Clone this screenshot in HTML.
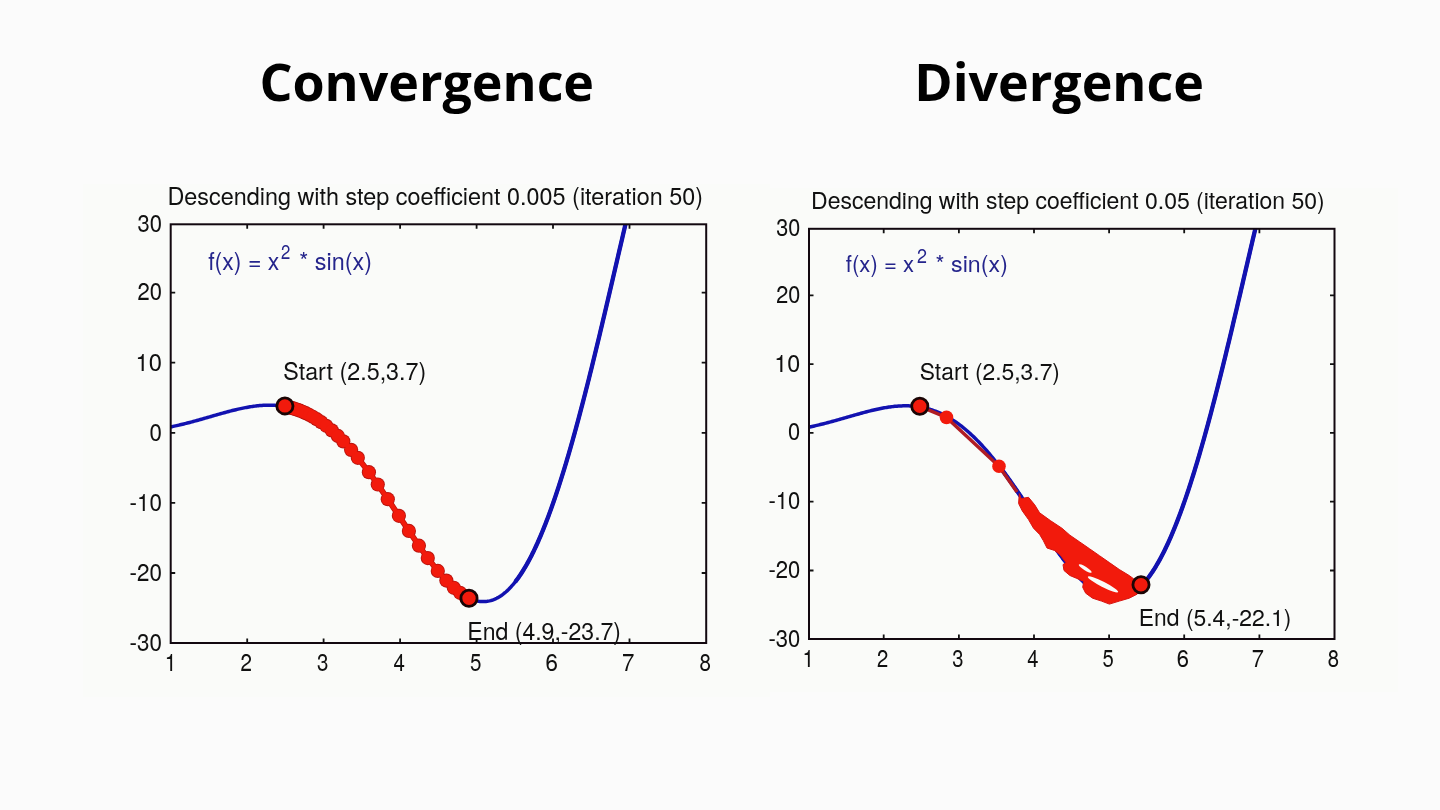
<!DOCTYPE html>
<html><head><meta charset="utf-8"><title>Convergence vs Divergence</title>
<style>html,body{margin:0;padding:0;background:#fbfbfb;width:1440px;height:810px;overflow:hidden}svg{display:block}</style>
</head><body>
<svg width="1440" height="810" viewBox="0 0 1440 810">
<rect width="1440" height="810" fill="#fbfbfb"/>
<rect x="83" y="184" width="687" height="513" fill="#fafbf9"/>
<rect x="770" y="188" width="628" height="504" fill="#fafbf9"/>
<clipPath id="cl"><rect x="170.7" y="224.3" width="535.5" height="418.7"/></clipPath><path d="M170.70,426.90 L171.89,426.66 L173.07,426.41 L174.26,426.15 L175.44,425.90 L176.63,425.63 L177.81,425.36 L179.00,425.09 L180.18,424.81 L181.37,424.53 L182.55,424.25 L183.74,423.96 L184.92,423.66 L186.11,423.36 L187.29,423.06 L188.48,422.75 L189.66,422.45 L190.85,422.13 L192.04,421.82 L193.22,421.50 L194.41,421.18 L195.59,420.85 L196.78,420.53 L197.96,420.20 L199.15,419.86 L200.33,419.53 L201.52,419.20 L202.70,418.86 L203.89,418.52 L205.07,418.18 L206.26,417.84 L207.44,417.50 L208.63,417.16 L209.81,416.81 L211.00,416.47 L212.18,416.13 L213.37,415.79 L214.56,415.44 L215.74,415.10 L216.93,414.76 L218.11,414.43 L219.30,414.09 L220.48,413.75 L221.67,413.42 L222.85,413.09 L224.04,412.76 L225.22,412.44 L226.41,412.12 L227.59,411.80 L228.78,411.48 L229.96,411.17 L231.15,410.87 L232.33,410.57 L233.52,410.27 L234.71,409.98 L235.89,409.69 L237.08,409.41 L238.26,409.14 L239.45,408.87 L240.63,408.61 L241.82,408.35 L243.00,408.11 L244.19,407.87 L245.37,407.64 L246.56,407.42 L247.74,407.20 L248.93,406.99 L250.11,406.80 L251.30,406.61 L252.48,406.43 L253.67,406.27 L254.86,406.11 L256.04,405.96 L257.23,405.83 L258.41,405.70 L259.60,405.59 L260.78,405.49 L261.97,405.40 L263.15,405.33 L264.34,405.26 L265.52,405.21 L266.71,405.18 L267.89,405.15 L269.08,405.14 L270.26,405.15 L271.45,405.17 L272.63,405.20 L273.82,405.25 L275.01,405.32 L276.19,405.40 L277.38,405.49 L278.56,405.60 L279.75,405.73 L280.93,405.88 L282.12,406.04 L283.30,406.22 L284.49,406.42 L285.67,406.63 L286.86,406.86 L288.04,407.11 L289.23,407.38 L290.41,407.67 L291.60,407.97 L292.78,408.30 L293.97,408.64 L295.15,409.00 L296.34,409.38 L297.53,409.79 L298.71,410.21 L299.90,410.65 L301.08,411.11 L302.27,411.59 L303.45,412.10 L304.64,412.62 L305.82,413.16 L307.01,413.73 L308.19,414.31 L309.38,414.92 L310.56,415.55 L311.75,416.20 L312.93,416.87 L314.12,417.56 L315.30,418.27 L316.49,419.01 L317.68,419.76 L318.86,420.54 L320.05,421.34 L321.23,422.16 L322.42,423.00 L323.60,423.87 L324.79,424.75 L325.97,425.66 L327.16,426.59 L328.34,427.54 L329.53,428.52 L330.71,429.51 L331.90,430.53 L333.08,431.56 L334.27,432.62 L335.45,433.70 L336.64,434.80 L337.83,435.92 L339.01,437.06 L340.20,438.23 L341.38,439.41 L342.57,440.62 L343.75,441.84 L344.94,443.08 L346.12,444.35 L347.31,445.63 L348.49,446.93 L349.68,448.26 L350.86,449.60 L352.05,450.96 L353.23,452.34 L354.42,453.73 L355.60,455.15 L356.79,456.58 L357.98,458.03 L359.16,459.50 L360.35,460.98 L361.53,462.48 L362.72,464.00 L363.90,465.53 L365.09,467.08 L366.27,468.64 L367.46,470.22 L368.64,471.81 L369.83,473.42 L371.01,475.04 L372.20,476.67 L373.38,478.31 L374.57,479.97 L375.75,481.64 L376.94,483.32 L378.12,485.01 L379.31,486.71 L380.50,488.42 L381.68,490.14 L382.87,491.87 L384.05,493.61 L385.24,495.36 L386.42,497.11 L387.61,498.87 L388.79,500.63 L389.98,502.40 L391.16,504.18 L392.35,505.96 L393.53,507.74 L394.72,509.53 L395.90,511.32 L397.09,513.11 L398.27,514.90 L399.46,516.70 L400.65,518.49 L401.83,520.29 L403.02,522.08 L404.20,523.87 L405.39,525.66 L406.57,527.44 L407.76,529.22 L408.94,531.00 L410.13,532.77 L411.31,534.54 L412.50,536.30 L413.68,538.05 L414.87,539.79 L416.05,541.53 L417.24,543.25 L418.42,544.97 L419.61,546.67 L420.80,548.36 L421.98,550.04 L423.17,551.71 L424.35,553.36 L425.54,555.00 L426.72,556.62 L427.91,558.23 L429.09,559.82 L430.28,561.39 L431.46,562.95 L432.65,564.48 L433.83,565.99 L435.02,567.49 L436.20,568.96 L437.39,570.41 L438.57,571.84 L439.76,573.24 L440.94,574.62 L442.13,575.97 L443.32,577.30 L444.50,578.60 L445.69,579.87 L446.87,581.12 L448.06,582.33 L449.24,583.52 L450.43,584.67 L451.61,585.79 L452.80,586.88 L453.98,587.94 L455.17,588.97 L456.35,589.96 L457.54,590.91 L458.72,591.83 L459.91,592.71 L461.09,593.56 L462.28,594.37 L463.47,595.13 L464.65,595.86 L465.84,596.55 L467.02,597.20 L468.21,597.81 L469.39,598.37 L470.58,598.89 L471.76,599.37 L472.95,599.80 L474.13,600.19 L475.32,600.54 L476.50,600.83 L477.69,601.08 L478.87,601.29 L480.06,601.44 L481.24,601.55 L482.43,601.61 L483.62,601.62 L484.80,601.58 L485.99,601.49 L487.17,601.34 L488.36,601.15 L489.54,600.90 L490.73,600.60 L491.91,600.25 L493.10,599.84 L494.28,599.38 L495.47,598.86 L496.65,598.29 L497.84,597.67 L499.02,596.99 L500.21,596.25 L501.39,595.45 L502.58,594.60 L503.77,593.69 L504.95,592.73 L506.14,591.70 L507.32,590.62 L508.51,589.48 L509.69,588.28 L510.88,587.02 L512.06,585.70 L513.25,584.32 L514.43,582.89 L515.62,581.39 L516.80,579.83 L517.99,578.22 L519.17,576.54 L520.36,574.80 L521.54,573.01 L522.73,571.15 L523.91,569.23 L525.10,567.25 L526.29,565.21 L527.47,563.11 L528.66,560.95 L529.84,558.73 L531.03,556.45 L532.21,554.11 L533.40,551.71 L534.58,549.25 L535.77,546.72 L536.95,544.14 L538.14,541.50 L539.32,538.80 L540.51,536.04 L541.69,533.23 L542.88,530.35 L544.06,527.42 L545.25,524.42 L546.44,521.37 L547.62,518.27 L548.81,515.10 L549.99,511.88 L551.18,508.61 L552.36,505.27 L553.55,501.89 L554.73,498.44 L555.92,494.95 L557.10,491.40 L558.29,487.80 L559.47,484.14 L560.66,480.44 L561.84,476.68 L563.03,472.87 L564.21,469.01 L565.40,465.10 L566.59,461.15 L567.77,457.14 L568.96,453.09 L570.14,449.00 L571.33,444.85 L572.51,440.67 L573.70,436.43 L574.88,432.16 L576.07,427.84 L577.25,423.48 L578.44,419.09 L579.62,414.65 L580.81,410.17 L581.99,405.66 L583.18,401.11 L584.36,396.52 L585.55,391.90 L586.74,387.25 L587.92,382.56 L589.11,377.84 L590.29,373.09 L591.48,368.31 L592.66,363.51 L593.85,358.68 L595.03,353.82 L596.22,348.94 L597.40,344.03 L598.59,339.10 L599.77,334.16 L600.96,329.19 L602.14,324.20 L603.33,319.20 L604.51,314.18 L605.70,309.15 L606.88,304.10 L608.07,299.04 L609.26,293.97 L610.44,288.90 L611.63,283.81 L612.81,278.72 L614.00,273.62 L615.18,268.52 L616.37,263.42 L617.55,258.32 L618.74,253.22 L619.92,248.12 L621.11,243.03 L622.29,237.94 L623.48,232.86 L624.66,227.79 L625.85,222.73 L627.03,217.68 L628.22,212.64 L629.41,207.62 L630.59,202.61 L631.78,197.62 L632.96,192.65 L634.15,187.70 L635.33,182.78 L636.52,177.88 L637.70,173.00 L638.89,168.15 L640.07,163.34 L641.26,158.55 L642.44,153.79 L643.63,149.07 L644.81,144.38" stroke="#1212b0" stroke-width="3.5" fill="none" clip-path="url(#cl)"/><path d="M364.30,466.05 L365.09,467.08 L365.88,468.12 L366.67,469.17 L367.46,470.22 L368.25,471.28 L369.04,472.35 L369.83,473.42 L370.62,474.50 L371.41,475.58 L372.20,476.67 L372.99,477.76 L373.78,478.87 L374.57,479.97 L375.36,481.08 L376.15,482.20 L376.94,483.32 L377.73,484.45 L378.52,485.58 L379.31,486.71 L380.10,487.85 L380.89,489.00 L381.68,490.14 L382.47,491.30 L383.26,492.45 L384.05,493.61 L384.84,494.77 L385.63,495.94 L386.42,497.11 L387.21,498.28 L388.00,499.45 L388.79,500.63 L389.58,501.81 L390.37,502.99 L391.16,504.18 L391.95,505.36 L392.74,506.55 L393.53,507.74 L394.32,508.93 L395.11,510.13 L395.90,511.32 L396.69,512.51 L397.48,513.71 L398.27,514.90 L399.06,516.10 L399.86,517.30 L400.65,518.49 L401.44,519.69 L402.23,520.88 L403.02,522.08 L403.81,523.27 L404.60,524.47 L405.39,525.66 L406.18,526.85 L406.97,528.04 L407.76,529.22 L408.55,530.41 L409.34,531.59 L410.13,532.77 L410.92,533.95 L411.71,535.12 L412.50,536.30 L413.29,537.46 L414.08,538.63 L414.87,539.79 L415.66,540.95 L416.45,542.10 L417.24,543.25 L418.03,544.40 L418.82,545.54 L419.61,546.67 L420.40,547.80 L421.19,548.92 L421.98,550.04 L422.77,551.16 L423.56,552.26 L424.35,553.36 L425.14,554.46 L425.93,555.54 L426.72,556.62 L427.51,557.70 L428.30,558.76 L429.09,559.82 L429.88,560.87 L430.67,561.91 L431.46,562.95M516.01,580.88 L516.80,579.83 L517.59,578.76 L518.38,577.67 L519.17,576.54 L519.96,575.39 L520.75,574.21 L521.54,573.01 L522.33,571.77 L523.12,570.52 L523.91,569.23 L524.71,567.92 L525.50,566.58 L526.29,565.21 L527.08,563.82 L527.87,562.40 L528.66,560.95 L529.45,559.48 L530.24,557.98 L531.03,556.45 L531.82,554.90 L532.61,553.31 L533.40,551.71 L534.19,550.07 L534.98,548.41 L535.77,546.72 L536.56,545.01 L537.35,543.27 L538.14,541.50 L538.93,539.71 L539.72,537.89 L540.51,536.04 L541.30,534.17 L542.09,532.27 L542.88,530.35 L543.67,528.40 L544.46,526.42 L545.25,524.42 L546.04,522.40 L546.83,520.34 L547.62,518.27 L548.41,516.16 L549.20,514.03 L549.99,511.88 L550.78,509.70 L551.57,507.50 L552.36,505.27 L553.15,503.02 L553.94,500.75 L554.73,498.44 L555.52,496.12 L556.31,493.77 L557.10,491.40 L557.89,489.00 L558.68,486.58 L559.47,484.14 L560.26,481.68 L561.05,479.19 L561.84,476.68 L562.63,474.14 L563.42,471.59 L564.21,469.01 L565.00,466.41 L565.80,463.79 L566.59,461.15 L567.38,458.48 L568.17,455.80 L568.96,453.09 L569.75,450.37 L570.54,447.62 L571.33,444.85 L572.12,442.07 L572.91,439.26 L573.70,436.43 L574.49,433.59 L575.28,430.72 L576.07,427.84 L576.86,424.94 L577.65,422.02 L578.44,419.09 L579.23,416.13 L580.02,413.16 L580.81,410.17 L581.60,407.17 L582.39,404.14 L583.18,401.11 L583.97,398.05 L584.76,394.98 L585.55,391.90 L586.34,388.80 L587.13,385.69 L587.92,382.56 L588.71,379.42 L589.50,376.26 L590.29,373.09 L591.08,369.91 L591.87,366.72 L592.66,363.51 L593.45,360.29 L594.24,357.06 L595.03,353.82 L595.82,350.57 L596.61,347.30 L597.40,344.03 L598.19,340.75 L598.98,337.46 L599.77,334.16 L600.56,330.85 L601.35,327.53 L602.14,324.20 L602.93,320.87 L603.72,317.53 L604.51,314.18 L605.30,310.82 L606.09,307.46 L606.88,304.10 L607.68,300.73 L608.47,297.35 L609.26,293.97 L610.05,290.59 L610.84,287.20 L611.63,283.81 L612.42,280.42 L613.21,277.02 L614.00,273.62 L614.79,270.22 L615.58,266.82 L616.37,263.42 L617.16,260.02 L617.95,256.62 L618.74,253.22 L619.53,249.82 L620.32,246.43 L621.11,243.03 L621.90,239.64 L622.69,236.25 L623.48,232.86 L624.27,229.48 L625.06,226.10 L625.85,222.73 L626.64,219.36 L627.43,216.00 L628.22,212.64 L629.01,209.29 L629.80,205.95 L630.59,202.61 L631.38,199.28 L632.17,195.96 L632.96,192.65 L633.75,189.35 L634.54,186.06 L635.33,182.78 L636.12,179.51 L636.91,176.25 L637.70,173.00 L638.49,169.77 L639.28,166.55 L640.07,163.34 L640.86,160.14 L641.65,156.96 L642.44,153.79 L643.23,150.64 L644.02,147.50 L644.81,144.38" stroke="#1212b0" stroke-width="4.3" fill="none" stroke-linecap="round" clip-path="url(#cl)"/><path d="M285.40,406.58 L286.71,406.83 L288.14,407.13 L289.70,407.49 L291.41,407.92 L293.27,408.43 L295.31,409.05 L297.56,409.80 L300.02,410.70 L302.74,411.79 L305.73,413.12 L309.04,414.74 L312.69,416.73 L316.74,419.16 L321.23,422.16 L326.21,425.84 L331.73,430.38 L337.85,435.94 L343.29,441.36 L351.09,449.86 L357.82,457.84 L368.91,472.17 L377.78,484.52 L387.80,499.15 L398.89,515.83 L408.90,530.94 L418.92,545.68 L427.79,558.08 L437.81,570.92 L446.37,580.59 L453.80,587.78 L460.06,592.82 L465.20,596.19 L468.93,598.16" stroke="#c0160f" stroke-width="5.800000000000001" fill="none" stroke-linejoin="round"/><circle cx="286.71" cy="406.83" r="7.1000000000000005" fill="#b8140f"/><circle cx="288.14" cy="407.13" r="7.1000000000000005" fill="#b8140f"/><circle cx="289.70" cy="407.49" r="7.1000000000000005" fill="#b8140f"/><circle cx="291.41" cy="407.92" r="7.1000000000000005" fill="#b8140f"/><circle cx="293.27" cy="408.43" r="7.1000000000000005" fill="#b8140f"/><circle cx="295.31" cy="409.05" r="7.1000000000000005" fill="#b8140f"/><circle cx="297.56" cy="409.80" r="7.1000000000000005" fill="#b8140f"/><circle cx="300.02" cy="410.70" r="7.1000000000000005" fill="#b8140f"/><circle cx="302.74" cy="411.79" r="7.1000000000000005" fill="#b8140f"/><circle cx="305.73" cy="413.12" r="7.1000000000000005" fill="#b8140f"/><circle cx="309.04" cy="414.74" r="7.1000000000000005" fill="#b8140f"/><circle cx="312.69" cy="416.73" r="7.1000000000000005" fill="#b8140f"/><circle cx="316.74" cy="419.16" r="7.1000000000000005" fill="#b8140f"/><circle cx="321.23" cy="422.16" r="7.1000000000000005" fill="#b8140f"/><circle cx="326.21" cy="425.84" r="7.1000000000000005" fill="#b8140f"/><circle cx="331.73" cy="430.38" r="7.1000000000000005" fill="#b8140f"/><circle cx="337.85" cy="435.94" r="7.1000000000000005" fill="#b8140f"/><circle cx="343.29" cy="441.36" r="7.1000000000000005" fill="#b8140f"/><circle cx="351.09" cy="449.86" r="7.1000000000000005" fill="#b8140f"/><circle cx="357.82" cy="457.84" r="7.1000000000000005" fill="#b8140f"/><circle cx="368.91" cy="472.17" r="7.1000000000000005" fill="#b8140f"/><circle cx="377.78" cy="484.52" r="7.1000000000000005" fill="#b8140f"/><circle cx="387.80" cy="499.15" r="7.1000000000000005" fill="#b8140f"/><circle cx="398.89" cy="515.83" r="7.1000000000000005" fill="#b8140f"/><circle cx="408.90" cy="530.94" r="7.1000000000000005" fill="#b8140f"/><circle cx="418.92" cy="545.68" r="7.1000000000000005" fill="#b8140f"/><circle cx="427.79" cy="558.08" r="7.1000000000000005" fill="#b8140f"/><circle cx="437.81" cy="570.92" r="7.1000000000000005" fill="#b8140f"/><circle cx="446.37" cy="580.59" r="7.1000000000000005" fill="#b8140f"/><circle cx="453.80" cy="587.78" r="7.1000000000000005" fill="#b8140f"/><circle cx="460.06" cy="592.82" r="7.1000000000000005" fill="#b8140f"/><circle cx="465.20" cy="596.19" r="7.1000000000000005" fill="#b8140f"/><path d="M285.40,406.58 L286.71,406.83 L288.14,407.13 L289.70,407.49 L291.41,407.92 L293.27,408.43 L295.31,409.05 L297.56,409.80 L300.02,410.70 L302.74,411.79 L305.73,413.12 L309.04,414.74 L312.69,416.73 L316.74,419.16 L321.23,422.16 L326.21,425.84 L331.73,430.38 L337.85,435.94 L343.29,441.36 L351.09,449.86 L357.82,457.84 L368.91,472.17 L377.78,484.52 L387.80,499.15 L398.89,515.83 L408.90,530.94 L418.92,545.68 L427.79,558.08 L437.81,570.92 L446.37,580.59 L453.80,587.78 L460.06,592.82 L465.20,596.19 L468.93,598.16" stroke="#f21a0c" stroke-width="4.2" fill="none" stroke-linejoin="round"/><circle cx="286.71" cy="406.83" r="6.2" fill="#f21a0c"/><circle cx="288.14" cy="407.13" r="6.2" fill="#f21a0c"/><circle cx="289.70" cy="407.49" r="6.2" fill="#f21a0c"/><circle cx="291.41" cy="407.92" r="6.2" fill="#f21a0c"/><circle cx="293.27" cy="408.43" r="6.2" fill="#f21a0c"/><circle cx="295.31" cy="409.05" r="6.2" fill="#f21a0c"/><circle cx="297.56" cy="409.80" r="6.2" fill="#f21a0c"/><circle cx="300.02" cy="410.70" r="6.2" fill="#f21a0c"/><circle cx="302.74" cy="411.79" r="6.2" fill="#f21a0c"/><circle cx="305.73" cy="413.12" r="6.2" fill="#f21a0c"/><circle cx="309.04" cy="414.74" r="6.2" fill="#f21a0c"/><circle cx="312.69" cy="416.73" r="6.2" fill="#f21a0c"/><circle cx="316.74" cy="419.16" r="6.2" fill="#f21a0c"/><circle cx="321.23" cy="422.16" r="6.2" fill="#f21a0c"/><circle cx="326.21" cy="425.84" r="6.2" fill="#f21a0c"/><circle cx="331.73" cy="430.38" r="6.2" fill="#f21a0c"/><circle cx="337.85" cy="435.94" r="6.2" fill="#f21a0c"/><circle cx="343.29" cy="441.36" r="6.2" fill="#f21a0c"/><circle cx="351.09" cy="449.86" r="6.2" fill="#f21a0c"/><circle cx="357.82" cy="457.84" r="6.2" fill="#f21a0c"/><circle cx="368.91" cy="472.17" r="6.2" fill="#f21a0c"/><circle cx="377.78" cy="484.52" r="6.2" fill="#f21a0c"/><circle cx="387.80" cy="499.15" r="6.2" fill="#f21a0c"/><circle cx="398.89" cy="515.83" r="6.2" fill="#f21a0c"/><circle cx="408.90" cy="530.94" r="6.2" fill="#f21a0c"/><circle cx="418.92" cy="545.68" r="6.2" fill="#f21a0c"/><circle cx="427.79" cy="558.08" r="6.2" fill="#f21a0c"/><circle cx="437.81" cy="570.92" r="6.2" fill="#f21a0c"/><circle cx="446.37" cy="580.59" r="6.2" fill="#f21a0c"/><circle cx="453.80" cy="587.78" r="6.2" fill="#f21a0c"/><circle cx="460.06" cy="592.82" r="6.2" fill="#f21a0c"/><circle cx="465.20" cy="596.19" r="6.2" fill="#f21a0c"/><circle cx="284.90" cy="405.90" r="8.1" fill="#f21a0c" stroke="#1a0505" stroke-width="2.8"/><circle cx="469.00" cy="598.20" r="8.1" fill="#f21a0c" stroke="#1a0505" stroke-width="2.8"/>
<clipPath id="cr"><rect x="809.0" y="228.8" width="525.5" height="410.2"/></clipPath><path d="M808.60,427.16 L809.76,426.92 L810.93,426.68 L812.09,426.43 L813.26,426.18 L814.42,425.92 L815.59,425.65 L816.75,425.39 L817.92,425.11 L819.08,424.84 L820.25,424.56 L821.41,424.27 L822.57,423.98 L823.74,423.69 L824.90,423.39 L826.07,423.09 L827.23,422.79 L828.40,422.48 L829.56,422.17 L830.73,421.86 L831.89,421.55 L833.05,421.23 L834.22,420.91 L835.38,420.58 L836.55,420.26 L837.71,419.93 L838.88,419.60 L840.04,419.27 L841.21,418.94 L842.37,418.61 L843.54,418.27 L844.70,417.94 L845.86,417.60 L847.03,417.26 L848.19,416.93 L849.36,416.59 L850.52,416.26 L851.69,415.92 L852.85,415.59 L854.02,415.25 L855.18,414.92 L856.35,414.59 L857.51,414.26 L858.67,413.94 L859.84,413.61 L861.00,413.29 L862.17,412.97 L863.33,412.66 L864.50,412.34 L865.66,412.03 L866.83,411.73 L867.99,411.43 L869.15,411.13 L870.32,410.84 L871.48,410.56 L872.65,410.28 L873.81,410.00 L874.98,409.73 L876.14,409.47 L877.31,409.21 L878.47,408.97 L879.64,408.72 L880.80,408.49 L881.96,408.26 L883.13,408.04 L884.29,407.83 L885.46,407.63 L886.62,407.44 L887.79,407.25 L888.95,407.08 L890.12,406.92 L891.28,406.76 L892.45,406.62 L893.61,406.49 L894.77,406.36 L895.94,406.25 L897.10,406.16 L898.27,406.07 L899.43,405.99 L900.60,405.93 L901.76,405.88 L902.93,405.85 L904.09,405.82 L905.25,405.81 L906.42,405.82 L907.58,405.84 L908.75,405.87 L909.91,405.92 L911.08,405.98 L912.24,406.06 L913.41,406.16 L914.57,406.27 L915.74,406.39 L916.90,406.53 L918.06,406.69 L919.23,406.87 L920.39,407.06 L921.56,407.27 L922.72,407.50 L923.89,407.74 L925.05,408.01 L926.22,408.29 L927.38,408.59 L928.55,408.91 L929.71,409.24 L930.87,409.60 L932.04,409.97 L933.20,410.37 L934.37,410.78 L935.53,411.22 L936.70,411.67 L937.86,412.14 L939.03,412.64 L940.19,413.15 L941.35,413.68 L942.52,414.24 L943.68,414.81 L944.85,415.41 L946.01,416.02 L947.18,416.66 L948.34,417.32 L949.51,418.00 L950.67,418.69 L951.84,419.42 L953.00,420.16 L954.16,420.92 L955.33,421.71 L956.49,422.51 L957.66,423.34 L958.82,424.19 L959.99,425.06 L961.15,425.95 L962.32,426.86 L963.48,427.79 L964.65,428.75 L965.81,429.72 L966.97,430.72 L968.14,431.74 L969.30,432.77 L970.47,433.83 L971.63,434.91 L972.80,436.01 L973.96,437.13 L975.13,438.28 L976.29,439.44 L977.45,440.62 L978.62,441.82 L979.78,443.04 L980.95,444.28 L982.11,445.54 L983.28,446.82 L984.44,448.12 L985.61,449.43 L986.77,450.77 L987.94,452.12 L989.10,453.49 L990.26,454.88 L991.43,456.28 L992.59,457.71 L993.76,459.15 L994.92,460.60 L996.09,462.08 L997.25,463.56 L998.42,465.07 L999.58,466.59 L1000.74,468.12 L1001.91,469.67 L1003.07,471.23 L1004.24,472.80 L1005.40,474.39 L1006.57,475.99 L1007.73,477.61 L1008.90,479.23 L1010.06,480.87 L1011.23,482.52 L1012.39,484.18 L1013.55,485.85 L1014.72,487.53 L1015.88,489.21 L1017.05,490.91 L1018.21,492.61 L1019.38,494.33 L1020.54,496.05 L1021.71,497.77 L1022.87,499.50 L1024.04,501.24 L1025.20,502.98 L1026.36,504.73 L1027.53,506.48 L1028.69,508.24 L1029.86,509.99 L1031.02,511.75 L1032.19,513.51 L1033.35,515.27 L1034.52,517.03 L1035.68,518.79 L1036.84,520.55 L1038.01,522.31 L1039.17,524.06 L1040.34,525.81 L1041.50,527.56 L1042.67,529.30 L1043.83,531.04 L1045.00,532.77 L1046.16,534.50 L1047.33,536.22 L1048.49,537.93 L1049.65,539.63 L1050.82,541.32 L1051.98,543.00 L1053.15,544.68 L1054.31,546.34 L1055.48,547.98 L1056.64,549.62 L1057.81,551.24 L1058.97,552.85 L1060.14,554.44 L1061.30,556.02 L1062.46,557.58 L1063.63,559.12 L1064.79,560.64 L1065.96,562.15 L1067.12,563.64 L1068.29,565.10 L1069.45,566.55 L1070.62,567.97 L1071.78,569.37 L1072.94,570.75 L1074.11,572.10 L1075.27,573.43 L1076.44,574.73 L1077.60,576.00 L1078.77,577.25 L1079.93,578.47 L1081.10,579.67 L1082.26,580.83 L1083.43,581.96 L1084.59,583.06 L1085.75,584.13 L1086.92,585.17 L1088.08,586.18 L1089.25,587.15 L1090.41,588.08 L1091.58,588.99 L1092.74,589.85 L1093.91,590.68 L1095.07,591.47 L1096.24,592.23 L1097.40,592.94 L1098.56,593.62 L1099.73,594.25 L1100.89,594.85 L1102.06,595.40 L1103.22,595.91 L1104.39,596.38 L1105.55,596.81 L1106.72,597.19 L1107.88,597.53 L1109.04,597.82 L1110.21,598.07 L1111.37,598.27 L1112.54,598.42 L1113.70,598.52 L1114.87,598.58 L1116.03,598.59 L1117.20,598.55 L1118.36,598.46 L1119.53,598.32 L1120.69,598.13 L1121.85,597.88 L1123.02,597.59 L1124.18,597.24 L1125.35,596.84 L1126.51,596.39 L1127.68,595.89 L1128.84,595.33 L1130.01,594.71 L1131.17,594.04 L1132.34,593.32 L1133.50,592.54 L1134.66,591.70 L1135.83,590.81 L1136.99,589.86 L1138.16,588.86 L1139.32,587.80 L1140.49,586.68 L1141.65,585.50 L1142.82,584.27 L1143.98,582.97 L1145.14,581.62 L1146.31,580.21 L1147.47,578.74 L1148.64,577.22 L1149.80,575.63 L1150.97,573.98 L1152.13,572.28 L1153.30,570.52 L1154.46,568.69 L1155.63,566.81 L1156.79,564.87 L1157.95,562.87 L1159.12,560.81 L1160.28,558.69 L1161.45,556.51 L1162.61,554.27 L1163.78,551.97 L1164.94,549.62 L1166.11,547.20 L1167.27,544.73 L1168.44,542.20 L1169.60,539.61 L1170.76,536.96 L1171.93,534.25 L1173.09,531.48 L1174.26,528.66 L1175.42,525.78 L1176.59,522.85 L1177.75,519.86 L1178.92,516.81 L1180.08,513.70 L1181.24,510.54 L1182.41,507.33 L1183.57,504.06 L1184.74,500.74 L1185.90,497.36 L1187.07,493.93 L1188.23,490.45 L1189.40,486.91 L1190.56,483.33 L1191.73,479.69 L1192.89,476.00 L1194.05,472.27 L1195.22,468.48 L1196.38,464.65 L1197.55,460.76 L1198.71,456.84 L1199.88,452.86 L1201.04,448.84 L1202.21,444.78 L1203.37,440.67 L1204.54,436.52 L1205.70,432.32 L1206.86,428.09 L1208.03,423.81 L1209.19,419.49 L1210.36,415.14 L1211.52,410.75 L1212.69,406.32 L1213.85,401.85 L1215.02,397.35 L1216.18,392.82 L1217.34,388.25 L1218.51,383.65 L1219.67,379.03 L1220.84,374.37 L1222.00,369.68 L1223.17,364.96 L1224.33,360.22 L1225.50,355.46 L1226.66,350.67 L1227.83,345.85 L1228.99,341.02 L1230.15,336.16 L1231.32,331.29 L1232.48,326.40 L1233.65,321.49 L1234.81,316.56 L1235.98,311.62 L1237.14,306.67 L1238.31,301.71 L1239.47,296.74 L1240.64,291.75 L1241.80,286.77 L1242.96,281.77 L1244.13,276.77 L1245.29,271.77 L1246.46,266.76 L1247.62,261.76 L1248.79,256.75 L1249.95,251.75 L1251.12,246.75 L1252.28,241.76 L1253.44,236.78 L1254.61,231.80 L1255.77,226.83 L1256.94,221.88 L1258.10,216.94 L1259.27,212.01 L1260.43,207.10 L1261.60,202.20 L1262.76,197.32 L1263.93,192.47 L1265.09,187.64 L1266.25,182.83 L1267.42,178.04 L1268.58,173.29 L1269.75,168.56 L1270.91,163.86 L1272.08,159.20 L1273.24,154.56 L1274.41,149.96" stroke="#1212b0" stroke-width="3.5" fill="none" clip-path="url(#cr)"/><path d="M998.80,465.57 L999.58,466.59 L1000.36,467.61 L1001.13,468.63 L1001.91,469.67 L1002.69,470.71 L1003.46,471.75 L1004.24,472.80 L1005.01,473.86 L1005.79,474.92 L1006.57,475.99 L1007.34,477.07 L1008.12,478.15 L1008.90,479.23 L1009.67,480.32 L1010.45,481.42 L1011.23,482.52 L1012.00,483.62 L1012.78,484.73 L1013.55,485.85 L1014.33,486.97 L1015.11,488.09 L1015.88,489.21 L1016.66,490.34 L1017.44,491.48 L1018.21,492.61 L1018.99,493.76 L1019.77,494.90 L1020.54,496.05 L1021.32,497.20 L1022.09,498.35 L1022.87,499.50 L1023.65,500.66 L1024.42,501.82 L1025.20,502.98 L1025.98,504.15 L1026.75,505.31 L1027.53,506.48 L1028.31,507.65 L1029.08,508.82 L1029.86,509.99 L1030.63,511.16 L1031.41,512.34 L1032.19,513.51 L1032.96,514.68 L1033.74,515.86 L1034.52,517.03 L1035.29,518.20 L1036.07,519.38 L1036.84,520.55 L1037.62,521.72 L1038.40,522.89 L1039.17,524.06 L1039.95,525.23 L1040.73,526.39 L1041.50,527.56 L1042.28,528.72 L1043.06,529.88 L1043.83,531.04 L1044.61,532.20 L1045.38,533.35 L1046.16,534.50 L1046.94,535.64 L1047.71,536.79 L1048.49,537.93 L1049.27,539.06 L1050.04,540.19 L1050.82,541.32 L1051.60,542.44 L1052.37,543.56 L1053.15,544.68 L1053.92,545.78 L1054.70,546.89 L1055.48,547.98 L1056.25,549.08 L1057.03,550.16 L1057.81,551.24 L1058.58,552.32 L1059.36,553.38 L1060.14,554.44 L1060.91,555.49 L1061.69,556.54 L1062.46,557.58 L1063.24,558.61 L1064.02,559.63 L1064.79,560.64M1147.86,578.24 L1148.64,577.22 L1149.41,576.17 L1150.19,575.09 L1150.97,573.98 L1151.74,572.85 L1152.52,571.70 L1153.30,570.52 L1154.07,569.31 L1154.85,568.07 L1155.63,566.81 L1156.40,565.52 L1157.18,564.21 L1157.95,562.87 L1158.73,561.50 L1159.51,560.11 L1160.28,558.69 L1161.06,557.24 L1161.84,555.77 L1162.61,554.27 L1163.39,552.75 L1164.17,551.20 L1164.94,549.62 L1165.72,548.01 L1166.49,546.38 L1167.27,544.73 L1168.05,543.05 L1168.82,541.34 L1169.60,539.61 L1170.38,537.85 L1171.15,536.06 L1171.93,534.25 L1172.71,532.41 L1173.48,530.55 L1174.26,528.66 L1175.03,526.75 L1175.81,524.81 L1176.59,522.85 L1177.36,520.86 L1178.14,518.85 L1178.92,516.81 L1179.69,514.74 L1180.47,512.66 L1181.24,510.54 L1182.02,508.41 L1182.80,506.24 L1183.57,504.06 L1184.35,501.85 L1185.13,499.62 L1185.90,497.36 L1186.68,495.08 L1187.46,492.77 L1188.23,490.45 L1189.01,488.10 L1189.78,485.72 L1190.56,483.33 L1191.34,480.91 L1192.11,478.47 L1192.89,476.00 L1193.67,473.52 L1194.44,471.01 L1195.22,468.48 L1196.00,465.93 L1196.77,463.36 L1197.55,460.76 L1198.32,458.15 L1199.10,455.52 L1199.88,452.86 L1200.65,450.19 L1201.43,447.49 L1202.21,444.78 L1202.98,442.04 L1203.76,439.29 L1204.54,436.52 L1205.31,433.72 L1206.09,430.91 L1206.86,428.09 L1207.64,425.24 L1208.42,422.38 L1209.19,419.49 L1209.97,416.60 L1210.75,413.68 L1211.52,410.75 L1212.30,407.80 L1213.07,404.83 L1213.85,401.85 L1214.63,398.86 L1215.40,395.85 L1216.18,392.82 L1216.96,389.78 L1217.73,386.72 L1218.51,383.65 L1219.29,380.57 L1220.06,377.48 L1220.84,374.37 L1221.61,371.24 L1222.39,368.11 L1223.17,364.96 L1223.94,361.81 L1224.72,358.64 L1225.50,355.46 L1226.27,352.27 L1227.05,349.06 L1227.83,345.85 L1228.60,342.63 L1229.38,339.40 L1230.15,336.16 L1230.93,332.92 L1231.71,329.66 L1232.48,326.40 L1233.26,323.12 L1234.04,319.85 L1234.81,316.56 L1235.59,313.27 L1236.37,309.97 L1237.14,306.67 L1237.92,303.36 L1238.69,300.05 L1239.47,296.74 L1240.25,293.42 L1241.02,290.09 L1241.80,286.77 L1242.58,283.44 L1243.35,280.10 L1244.13,276.77 L1244.90,273.44 L1245.68,270.10 L1246.46,266.76 L1247.23,263.43 L1248.01,260.09 L1248.79,256.75 L1249.56,253.42 L1250.34,250.09 L1251.12,246.75 L1251.89,243.43 L1252.67,240.10 L1253.44,236.78 L1254.22,233.46 L1255.00,230.14 L1255.77,226.83 L1256.55,223.53 L1257.33,220.23 L1258.10,216.94 L1258.88,213.65 L1259.66,210.37 L1260.43,207.10 L1261.21,203.83 L1261.98,200.57 L1262.76,197.32 L1263.54,194.09 L1264.31,190.86 L1265.09,187.64 L1265.87,184.43 L1266.64,181.23 L1267.42,178.04 L1268.20,174.87 L1268.97,171.71 L1269.75,168.56 L1270.52,165.42 L1271.30,162.30 L1272.08,159.20 L1272.85,156.10 L1273.63,153.03 L1274.41,149.96" stroke="#1212b0" stroke-width="4.3" fill="none" stroke-linecap="round" clip-path="url(#cr)"/><path d="M919.8,406.3 L946.5,417.4 L999,466.3 L1017,492" stroke="#b01c24" stroke-width="3.5" fill="none"/><circle cx="946.5" cy="417.4" r="6.8" fill="#f21a0c"/><circle cx="999" cy="466.3" r="6.8" fill="#f21a0c"/><path d="M1019.3,493.6 L1021.1,498.6 L1028.5,497.3 L1034.7,504.8 L1039.6,512.8 L1050.7,520.8 L1061.9,528.2 L1069.9,535.2 L1079.8,542.0 L1089.6,548.8 L1099.5,555.7 L1109.4,562.6 L1119.3,569.5 L1129.2,575.5 L1133.1,578.4 L1140.0,584.0 L1137.1,594.2 L1129.2,598.2 L1119.3,601.1 L1109.4,604.1 L1101.5,601.1 L1092.6,598.2 L1085.7,593.2 L1082.7,587.3 L1083.7,581.4 L1076.8,578.4 L1069.9,575.5 L1064.0,570.5 L1063.0,564.6 L1065.9,562.6 L1060.0,554.7 L1054.4,550.4 L1047.0,548.0 L1043.3,540.6 L1039.6,534.4 L1033.5,528.2 L1028.5,519.6 L1022.3,510.9 L1018.6,503.5Z" fill="#f21a0c" stroke="#d81410" stroke-width="1"/><ellipse cx="1085.2" cy="568.5" rx="7.5" ry="1.8" transform="rotate(32 1085.2 568.5)" fill="#fafbf9"/><ellipse cx="1103" cy="584.4" rx="17" ry="2.6" transform="rotate(27 1103 584.4)" fill="#fafbf9"/><circle cx="919.80" cy="406.30" r="8.1" fill="#f21a0c" stroke="#1a0505" stroke-width="2.8"/><circle cx="1141.00" cy="584.80" r="8.1" fill="#f21a0c" stroke="#1a0505" stroke-width="2.8"/>
<path d="M247.2,643.0V638.5M247.2,224.3V228.8M323.6,643.0V638.5M323.6,224.3V228.8M400.1,643.0V638.5M400.1,224.3V228.8M476.6,643.0V638.5M476.6,224.3V228.8M553.0,643.0V638.5M553.0,224.3V228.8M629.5,643.0V638.5M629.5,224.3V228.8M170.7,292.6H175.2M706.2,292.6H701.7M170.7,362.7H175.2M706.2,362.7H701.7M170.7,432.8H175.2M706.2,432.8H701.7M170.7,502.9H175.2M706.2,502.9H701.7M170.7,573.0H175.2M706.2,573.0H701.7" stroke="#111" stroke-width="1.8" fill="none"/><rect x="170.7" y="224.3" width="535.5" height="418.7" fill="none" stroke="#120810" stroke-width="2"/>
<path d="M883.7,639.0V634.5M883.7,228.8V233.3M958.9,639.0V634.5M958.9,228.8V233.3M1034.0,639.0V634.5M1034.0,228.8V233.3M1109.1,639.0V634.5M1109.1,228.8V233.3M1184.2,639.0V634.5M1184.2,228.8V233.3M1259.4,639.0V634.5M1259.4,228.8V233.3M809.0,295.4H813.5M1334.5,295.4H1330.0M809.0,364.2H813.5M1334.5,364.2H1330.0M809.0,432.9H813.5M1334.5,432.9H1330.0M809.0,501.7H813.5M1334.5,501.7H1330.0M809.0,570.5H813.5M1334.5,570.5H1330.0" stroke="#111" stroke-width="1.8" fill="none"/><rect x="809.0" y="228.8" width="525.5" height="410.2" fill="none" stroke="#120810" stroke-width="2"/>
<text transform="translate(259.40 101.20) scale(0.9984 1)" font-family="'Open Sans', 'Liberation Sans', Arial, sans-serif" font-weight="bold" font-size="52" textLength="335.16" lengthAdjust="spacingAndGlyphs" fill="#000">Convergence</text><text transform="translate(914.20 100.60) scale(0.9990 1)" font-family="'Open Sans', 'Liberation Sans', Arial, sans-serif" font-weight="bold" font-size="52" textLength="290.01" lengthAdjust="spacingAndGlyphs" fill="#000">Divergence</text><text transform="translate(167.45 205.00) scale(0.9748 1)" font-family="'TeX Gyre Heros', FreeSans, 'Liberation Sans', Arial, sans-serif" font-weight="normal" font-size="24" textLength="549.36" lengthAdjust="spacingAndGlyphs" fill="#111">Descending with step coefficient 0.005 (iteration 50)</text><text transform="translate(811.03 209.40) scale(0.9834 1)" font-family="'TeX Gyre Heros', FreeSans, 'Liberation Sans', Arial, sans-serif" font-weight="normal" font-size="23.4" textLength="522.40" lengthAdjust="spacingAndGlyphs" fill="#111">Descending with step coefficient 0.05 (iteration 50)</text><text transform="translate(208.20 270.00) scale(0.9620 1)" font-family="'TeX Gyre Heros', FreeSans, 'Liberation Sans', Arial, sans-serif" font-weight="normal" font-size="24" textLength="74.02" lengthAdjust="spacingAndGlyphs" fill="#25258c">f(x) = x</text><text transform="translate(281.10 259.20) scale(0.8364 1)" font-family="'TeX Gyre Heros', FreeSans, 'Liberation Sans', Arial, sans-serif" font-weight="normal" font-size="20" textLength="11.12" lengthAdjust="spacingAndGlyphs" fill="#25258c">2</text><text transform="translate(299.20 270.00) scale(0.9759 1)" font-family="'TeX Gyre Heros', FreeSans, 'Liberation Sans', Arial, sans-serif" font-weight="normal" font-size="24" textLength="74.66" lengthAdjust="spacingAndGlyphs" fill="#25258c">* sin(x)</text><text transform="translate(845.80 272.30) scale(0.9470 1)" font-family="'TeX Gyre Heros', FreeSans, 'Liberation Sans', Arial, sans-serif" font-weight="normal" font-size="23.4" textLength="72.14" lengthAdjust="spacingAndGlyphs" fill="#25258c">f(x) = x</text><text transform="translate(917.10 263.10) scale(0.9200 1)" font-family="'TeX Gyre Heros', FreeSans, 'Liberation Sans', Arial, sans-serif" font-weight="normal" font-size="19.5" textLength="10.84" lengthAdjust="spacingAndGlyphs" fill="#25258c">2</text><text transform="translate(935.60 272.30) scale(0.9933 1)" font-family="'TeX Gyre Heros', FreeSans, 'Liberation Sans', Arial, sans-serif" font-weight="normal" font-size="23.4" textLength="72.77" lengthAdjust="spacingAndGlyphs" fill="#25258c">* sin(x)</text><text transform="translate(283.23 379.80) scale(0.9708 1)" font-family="'TeX Gyre Heros', FreeSans, 'Liberation Sans', Arial, sans-serif" font-weight="normal" font-size="24" textLength="147.34" lengthAdjust="spacingAndGlyphs" fill="#111">Start (2.5,3.7)</text><text transform="translate(467.28 640.00) scale(0.9606 1)" font-family="'TeX Gyre Heros', FreeSans, 'Liberation Sans', Arial, sans-serif" font-weight="normal" font-size="24" textLength="160.08" lengthAdjust="spacingAndGlyphs" fill="#111">End (4.9,-23.7)</text><text transform="translate(919.72 380.40) scale(0.9765 1)" font-family="'TeX Gyre Heros', FreeSans, 'Liberation Sans', Arial, sans-serif" font-weight="normal" font-size="23.4" textLength="143.59" lengthAdjust="spacingAndGlyphs" fill="#111">Start (2.5,3.7)</text><text transform="translate(1138.85 626.40) scale(0.9775 1)" font-family="'TeX Gyre Heros', FreeSans, 'Liberation Sans', Arial, sans-serif" font-weight="normal" font-size="23.4" textLength="156.01" lengthAdjust="spacingAndGlyphs" fill="#111">End (5.4,-22.1)</text><text transform="translate(137.40 232.10) scale(0.8885 1)" font-family="'TeX Gyre Heros', FreeSans, 'Liberation Sans', Arial, sans-serif" font-weight="normal" font-size="24.8" textLength="27.57" lengthAdjust="spacingAndGlyphs" fill="#111">30</text><text transform="translate(137.40 300.40) scale(0.8885 1)" font-family="'TeX Gyre Heros', FreeSans, 'Liberation Sans', Arial, sans-serif" font-weight="normal" font-size="24.8" textLength="27.57" lengthAdjust="spacingAndGlyphs" fill="#111">20</text><text transform="translate(135.48 370.50) scale(0.9602 1)" font-family="'TeX Gyre Heros', FreeSans, 'Liberation Sans', Arial, sans-serif" font-weight="normal" font-size="24.8" textLength="27.57" lengthAdjust="spacingAndGlyphs" fill="#111">10</text><text transform="translate(149.50 440.60) scale(0.9000 1)" font-family="'TeX Gyre Heros', FreeSans, 'Liberation Sans', Arial, sans-serif" font-weight="normal" font-size="24.8" textLength="13.79" lengthAdjust="spacingAndGlyphs" fill="#111">0</text><text transform="translate(129.50 510.70) scale(0.9047 1)" font-family="'TeX Gyre Heros', FreeSans, 'Liberation Sans', Arial, sans-serif" font-weight="normal" font-size="24.8" textLength="35.83" lengthAdjust="spacingAndGlyphs" fill="#111">-10</text><text transform="translate(129.50 580.80) scale(0.9047 1)" font-family="'TeX Gyre Heros', FreeSans, 'Liberation Sans', Arial, sans-serif" font-weight="normal" font-size="24.8" textLength="35.83" lengthAdjust="spacingAndGlyphs" fill="#111">-20</text><text transform="translate(129.50 650.80) scale(0.9047 1)" font-family="'TeX Gyre Heros', FreeSans, 'Liberation Sans', Arial, sans-serif" font-weight="normal" font-size="24.8" textLength="35.83" lengthAdjust="spacingAndGlyphs" fill="#111">-30</text><text transform="translate(164.69 671.30) scale(0.8571 1)" font-family="'TeX Gyre Heros', FreeSans, 'Liberation Sans', Arial, sans-serif" font-weight="normal" font-size="24.8" textLength="13.79" lengthAdjust="spacingAndGlyphs" fill="#111">1</text><text transform="translate(240.47 671.30) scale(0.8308 1)" font-family="'TeX Gyre Heros', FreeSans, 'Liberation Sans', Arial, sans-serif" font-weight="normal" font-size="24.8" textLength="13.79" lengthAdjust="spacingAndGlyphs" fill="#111">2</text><text transform="translate(316.94 671.30) scale(0.8308 1)" font-family="'TeX Gyre Heros', FreeSans, 'Liberation Sans', Arial, sans-serif" font-weight="normal" font-size="24.8" textLength="13.79" lengthAdjust="spacingAndGlyphs" fill="#111">3</text><text transform="translate(393.41 671.30) scale(0.8308 1)" font-family="'TeX Gyre Heros', FreeSans, 'Liberation Sans', Arial, sans-serif" font-weight="normal" font-size="24.8" textLength="13.79" lengthAdjust="spacingAndGlyphs" fill="#111">4</text><text transform="translate(469.88 671.30) scale(0.8308 1)" font-family="'TeX Gyre Heros', FreeSans, 'Liberation Sans', Arial, sans-serif" font-weight="normal" font-size="24.8" textLength="13.79" lengthAdjust="spacingAndGlyphs" fill="#111">5</text><text transform="translate(545.45 671.30) scale(0.9000 1)" font-family="'TeX Gyre Heros', FreeSans, 'Liberation Sans', Arial, sans-serif" font-weight="normal" font-size="24.8" textLength="13.79" lengthAdjust="spacingAndGlyphs" fill="#111">6</text><text transform="translate(621.92 671.30) scale(0.9000 1)" font-family="'TeX Gyre Heros', FreeSans, 'Liberation Sans', Arial, sans-serif" font-weight="normal" font-size="24.8" textLength="13.79" lengthAdjust="spacingAndGlyphs" fill="#111">7</text><text transform="translate(699.50 671.30) scale(0.8308 1)" font-family="'TeX Gyre Heros', FreeSans, 'Liberation Sans', Arial, sans-serif" font-weight="normal" font-size="24.8" textLength="13.79" lengthAdjust="spacingAndGlyphs" fill="#111">8</text><text transform="translate(776.20 236.30) scale(0.8885 1)" font-family="'TeX Gyre Heros', FreeSans, 'Liberation Sans', Arial, sans-serif" font-weight="normal" font-size="24.4" textLength="27.12" lengthAdjust="spacingAndGlyphs" fill="#111">30</text><text transform="translate(776.20 302.89) scale(0.8885 1)" font-family="'TeX Gyre Heros', FreeSans, 'Liberation Sans', Arial, sans-serif" font-weight="normal" font-size="24.4" textLength="27.12" lengthAdjust="spacingAndGlyphs" fill="#111">20</text><text transform="translate(774.28 371.67) scale(0.9609 1)" font-family="'TeX Gyre Heros', FreeSans, 'Liberation Sans', Arial, sans-serif" font-weight="normal" font-size="24.4" textLength="27.12" lengthAdjust="spacingAndGlyphs" fill="#111">10</text><text transform="translate(788.10 440.45) scale(0.9000 1)" font-family="'TeX Gyre Heros', FreeSans, 'Liberation Sans', Arial, sans-serif" font-weight="normal" font-size="24.4" textLength="13.56" lengthAdjust="spacingAndGlyphs" fill="#111">0</text><text transform="translate(768.39 509.23) scale(0.9055 1)" font-family="'TeX Gyre Heros', FreeSans, 'Liberation Sans', Arial, sans-serif" font-weight="normal" font-size="24.4" textLength="35.24" lengthAdjust="spacingAndGlyphs" fill="#111">-10</text><text transform="translate(768.39 578.01) scale(0.9055 1)" font-family="'TeX Gyre Heros', FreeSans, 'Liberation Sans', Arial, sans-serif" font-weight="normal" font-size="24.4" textLength="35.24" lengthAdjust="spacingAndGlyphs" fill="#111">-20</text><text transform="translate(768.39 646.50) scale(0.9055 1)" font-family="'TeX Gyre Heros', FreeSans, 'Liberation Sans', Arial, sans-serif" font-weight="normal" font-size="24.4" textLength="35.24" lengthAdjust="spacingAndGlyphs" fill="#111">-30</text><text transform="translate(802.59 666.70) scale(0.8571 1)" font-family="'TeX Gyre Heros', FreeSans, 'Liberation Sans', Arial, sans-serif" font-weight="normal" font-size="24.4" textLength="13.56" lengthAdjust="spacingAndGlyphs" fill="#111">1</text><text transform="translate(877.03 666.70) scale(0.8308 1)" font-family="'TeX Gyre Heros', FreeSans, 'Liberation Sans', Arial, sans-serif" font-weight="normal" font-size="24.4" textLength="13.56" lengthAdjust="spacingAndGlyphs" fill="#111">2</text><text transform="translate(952.16 666.70) scale(0.8308 1)" font-family="'TeX Gyre Heros', FreeSans, 'Liberation Sans', Arial, sans-serif" font-weight="normal" font-size="24.4" textLength="13.56" lengthAdjust="spacingAndGlyphs" fill="#111">3</text><text transform="translate(1027.29 666.70) scale(0.8308 1)" font-family="'TeX Gyre Heros', FreeSans, 'Liberation Sans', Arial, sans-serif" font-weight="normal" font-size="24.4" textLength="13.56" lengthAdjust="spacingAndGlyphs" fill="#111">4</text><text transform="translate(1102.42 666.70) scale(0.8308 1)" font-family="'TeX Gyre Heros', FreeSans, 'Liberation Sans', Arial, sans-serif" font-weight="normal" font-size="24.4" textLength="13.56" lengthAdjust="spacingAndGlyphs" fill="#111">5</text><text transform="translate(1176.65 666.70) scale(0.9000 1)" font-family="'TeX Gyre Heros', FreeSans, 'Liberation Sans', Arial, sans-serif" font-weight="normal" font-size="24.4" textLength="13.56" lengthAdjust="spacingAndGlyphs" fill="#111">6</text><text transform="translate(1251.78 666.70) scale(0.9000 1)" font-family="'TeX Gyre Heros', FreeSans, 'Liberation Sans', Arial, sans-serif" font-weight="normal" font-size="24.4" textLength="13.56" lengthAdjust="spacingAndGlyphs" fill="#111">7</text><text transform="translate(1327.80 666.70) scale(0.8308 1)" font-family="'TeX Gyre Heros', FreeSans, 'Liberation Sans', Arial, sans-serif" font-weight="normal" font-size="24.4" textLength="13.56" lengthAdjust="spacingAndGlyphs" fill="#111">8</text>
</svg>
</body></html>
